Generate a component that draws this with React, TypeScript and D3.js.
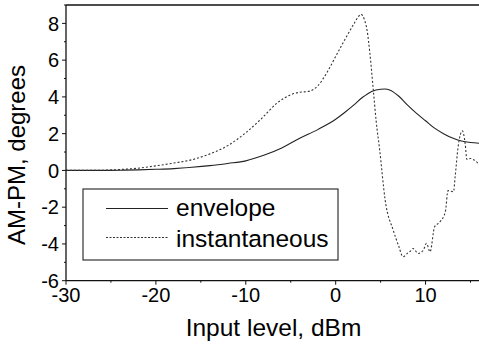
import React from "react";
import * as d3 from "d3";

const envX = [-30, -26, -24, -22, -20, -18, -16, -14, -12, -10, -8, -6, -4, -2, 0, 1, 2, 3, 4, 5, 5.5, 6, 7, 8, 9, 10, 11, 12, 13, 14, 15, 16];
const envY = [0, 0, 0.01, 0.03, 0.06, 0.1, 0.17, 0.26, 0.38, 0.52, 0.82, 1.22, 1.75, 2.22, 2.78, 3.15, 3.55, 3.98, 4.3, 4.42, 4.43, 4.38, 4.05, 3.55, 3.1, 2.7, 2.3, 2.0, 1.76, 1.6, 1.52, 1.48];

const instX = [-30, -26, -24, -22, -20, -18, -16, -14, -12, -10, -8.4, -6.5, -5, -4, -3, -2, -1, 0, 1, 2, 2.5, 2.8, 3.2, 3.5, 3.8, 4.2, 4.5, 4.9, 5.5, 6.4, 7.0, 7.5, 8.0, 8.3, 8.6, 9.2, 9.75, 10.1, 10.5, 11.0, 11.6, 12.2, 12.5, 13.1, 13.3, 13.6, 14.1, 14.4, 14.6, 15.0, 15.3, 15.6, 16];
const instY = [0, 0.01, 0.05, 0.12, 0.25, 0.4, 0.58, 0.9, 1.35, 2.05, 2.75, 3.67, 4.12, 4.25, 4.3, 4.6, 5.3, 6.2, 7.1, 7.95, 8.35, 8.5, 8.2, 7.6, 6.4, 4.3, 2.7, 1.1, -1.6, -3.25, -4.1, -4.7, -4.5, -4.4, -4.25, -4.52, -4.34, -3.97, -4.43, -3.07, -2.8, -2.25, -1.1, -1.16, -0.3, 1.2, 2.15, 1.48, 0.6, 0.65, 0.6, 0.5, 0.3];

const xTicks = [-30, -20, -10, 0, 10];
const xMinor = [-25, -15, -5, 5, 15];
const yTicks = [-6, -4, -2, 0, 2, 4, 6, 8];
const yMinor = [-5, -3, -1, 1, 3, 5, 7, 9];
const legendLabels = ["envelope", "instantaneous"];

const W = 479, H = 345;
const L = 66, R = 479.5, T = 5, B = 280.7;
const FONT = "'Liberation Sans', Arial, Helvetica, sans-serif";

export default function App() {
  const x = d3.scaleLinear().domain([-30, 16]).range([L, R]);
  const y = d3.scaleLinear().domain([-6, 9]).range([B, T]);
  const line = d3.line<[number, number]>().x(d => x(d[0])).y(d => y(d[1])).curve(d3.curveMonotoneX);
  const env = envX.map((v, i) => [v, envY[i]] as [number, number]);
  const inst = instX.map((v, i) => [v, instY[i]] as [number, number]);
  const fmt = (v: number) => (v < 0 ? "-" + Math.abs(v) : String(v));
  return (
    <svg width={W} height={H} style={{ position: "absolute", left: 0, top: 0, background: "#fff" }} fontFamily={FONT}>
      <defs>
        <clipPath id="plot"><rect x={L} y={T} width={R - L} height={B - T} /></clipPath>
      </defs>
      <g clipPath="url(#plot)" fill="none">
        <path d={line(env) || ""} stroke="#222" strokeWidth={1.1} />
        <path d={line(inst) || ""} stroke="#333" strokeWidth={1.1} strokeDasharray="2,2" />
      </g>
      <line x1={L} x2={W} y1={T} y2={T} stroke="#111" strokeWidth={1.3} />
      <line x1={L} x2={L} y1={T} y2={B} stroke="#111" strokeWidth={1.3} />
      <line x1={L} x2={W} y1={B} y2={B} stroke="#111" strokeWidth={1.3} />
      {yTicks.map(v => (
        <g key={"yt" + v}>
          <line x1={L - 4} x2={L} y1={y(v)} y2={y(v)} stroke="#111" />
          <text x={59} y={y(v)} dy="0.36em" textAnchor="end" fontSize={20} fill="#000">{fmt(v)}</text>
        </g>
      ))}
      {yMinor.map(v => (
        <line key={"ym" + v} x1={L - 2} x2={L} y1={y(v)} y2={y(v)} stroke="#111" />
      ))}
      {xTicks.map(v => (
        <g key={"xt" + v}>
          <line x1={x(v)} x2={x(v)} y1={B} y2={B + 4} stroke="#111" />
          <text x={x(v)} y={301.5} textAnchor="middle" fontSize={20} fill="#000">{fmt(v)}</text>
        </g>
      ))}
      {xMinor.map(v => (
        <line key={"xm" + v} x1={x(v)} x2={x(v)} y1={B} y2={B + 2} stroke="#111" />
      ))}
      <text x={273.5} y={335.5} textAnchor="middle" fontSize={24.5} fill="#000">Input level, dBm</text>
      <text transform="translate(24.5,155) rotate(-90)" textAnchor="middle" fontSize={24} fill="#000">AM-PM, degrees</text>
      <rect x={83} y={189} width={255} height={71} fill="#fff" stroke="#333" strokeWidth={1.2} />
      <line x1={106} x2={168} y1={208.5} y2={208.5} stroke="#222" strokeWidth={1} />
      <line x1={106} x2={168} y1={237.5} y2={237.5} stroke="#333" strokeWidth={1} strokeDasharray="2,1.5" />
      <text x={176} y={216} fontSize={24.5} fill="#000">{legendLabels[0]}</text>
      <text x={176} y={246.5} fontSize={24.5} fill="#000">{legendLabels[1]}</text>
    </svg>
  );
}
